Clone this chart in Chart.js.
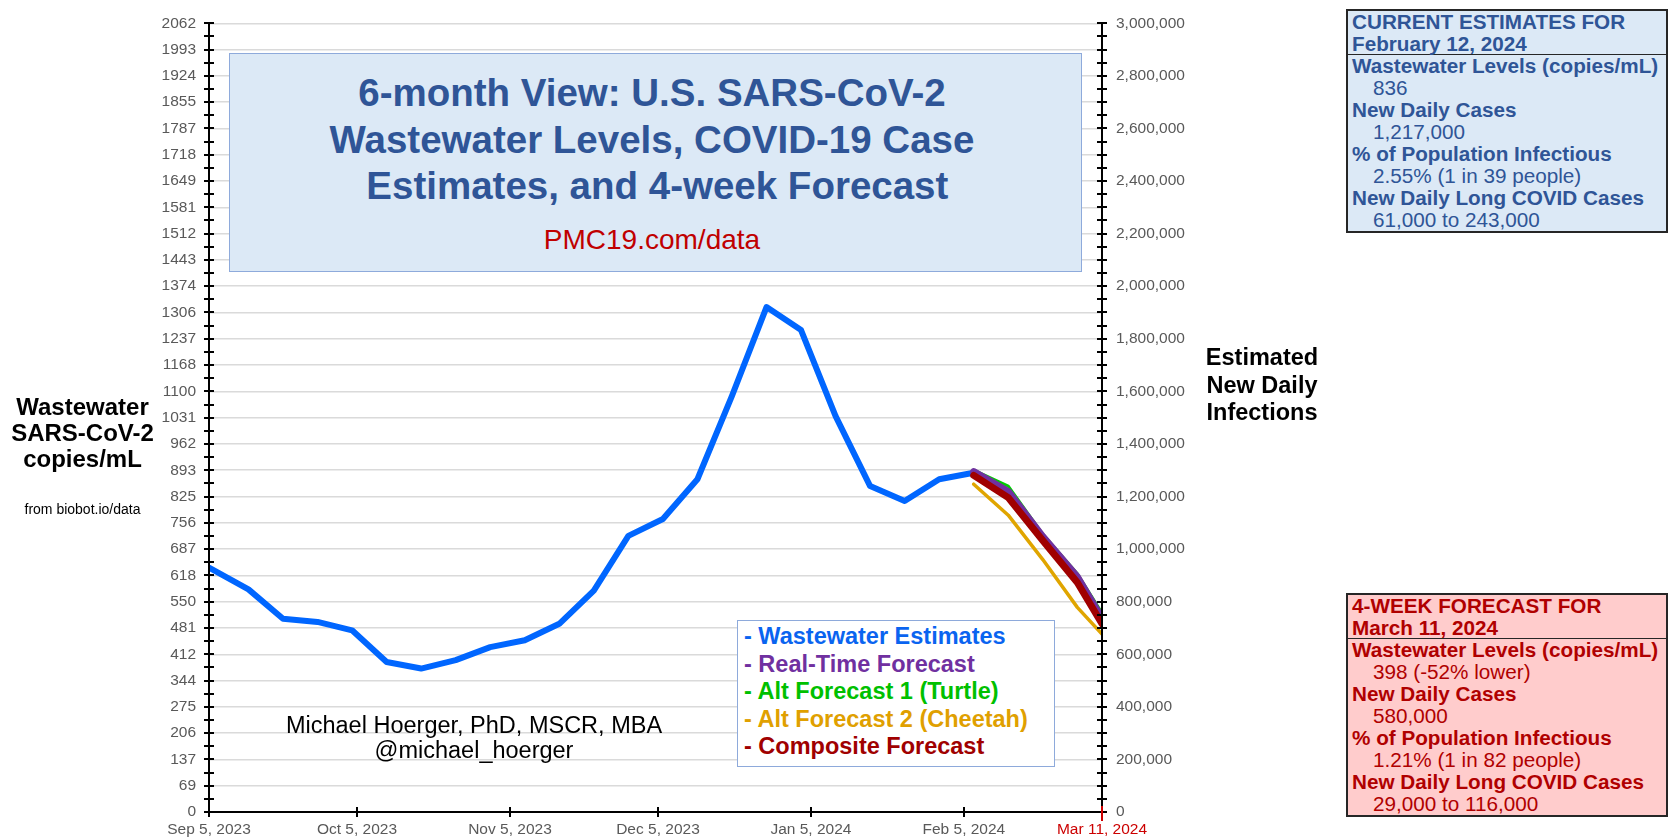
<!DOCTYPE html>
<html>
<head>
<meta charset="utf-8">
<title>U.S. SARS-CoV-2 Wastewater Levels</title>
<script src="https://cdn.jsdelivr.net/npm/chart.js@4.4.1/dist/chart.umd.min.js"></script>
<style>
  body { margin: 0; background: #fff; font-family: "Liberation Sans", Arial, sans-serif; }
  #wrap { position: relative; width: 1670px; height: 839px; overflow: hidden; }
  #chart { position: absolute; left: 0; top: 0; }
  .abs { position: absolute; }
  .axis-title { font-weight: bold; color: #000; text-align: center; font-size: 24px; }
  .title-box { left: 229px; top: 53px; width: 853px; height: 219px; box-sizing: border-box;
               border: 1.5px solid #8eaadb; background: #dce9f6; }
  .title { left: 229px; width: 846px; top: 70px; text-align: center; font-weight: bold;
           font-size: 38.5px; line-height: 46.5px; color: #2f5597; white-space: nowrap; }
  .url { left: 229px; width: 846px; top: 223px; text-align: center; font-size: 28px;
         line-height: 34px; color: #c00000; }
  .credit { left: 274px; width: 400px; top: 713px; text-align: center; font-size: 23.5px;
            line-height: 25px; color: #000; white-space: nowrap; }
  .legend { left: 737px; top: 620px; width: 318px; height: 147px; box-sizing: border-box;
            border: 1.5px solid #8eaadb; background: #fff; padding: 2px 0 0 6px;
            font-weight: bold; font-size: 23.5px; line-height: 27.5px; white-space: nowrap; }
  .stat { left: 1346px; width: 322px; box-sizing: border-box; border: 2px solid #262626;
          font-size: 20.7px; white-space: nowrap; }
  .stat .head { font-weight: bold; line-height: 21.5px; border-bottom: 1.5px solid #262626; padding-left: 4px; }
  .stat .k { font-weight: bold; line-height: 22px; padding-left: 4px; }
  .stat .v { line-height: 22px; padding-left: 25px; }
  .blue { background: #dce9f6; color: #2f5597; top: 9px; }
  .red { background: #ffcccc; color: #b00000; top: 593px; }
</style>
</head>
<body>
<div id="wrap">
  <canvas id="chart" width="1670" height="839"></canvas>

  <div class="abs axis-title" style="left:0;width:165px;top:394px;line-height:26px;">Wastewater<br>SARS-CoV-2<br>copies/mL</div>
  <div class="abs" style="left:0;width:165px;top:500px;text-align:center;font-size:14px;line-height:18px;color:#000;">from biobot.io/data</div>
  <div class="abs axis-title" style="left:1180px;width:164px;top:344px;line-height:27.5px;font-size:23.5px;">Estimated<br>New Daily<br>Infections</div>

  <div class="abs title-box"></div>
  <div class="abs title">6-month View: U.S. SARS-CoV-2<br>Wastewater Levels, COVID-19 Case<br>&nbsp;Estimates, and 4-week Forecast</div>
  <div class="abs url">PMC19.com/data</div>

  <div class="abs credit">Michael Hoerger, PhD, MSCR, MBA<br>@michael_hoerger</div>

  <div class="abs legend" id="legend"></div>

  <div class="abs stat blue">
    <div class="head">CURRENT ESTIMATES FOR<br>February 12, 2024</div>
    <div class="k">Wastewater Levels (copies/mL)</div>
    <div class="v">836</div>
    <div class="k">New Daily Cases</div>
    <div class="v">1,217,000</div>
    <div class="k">% of Population Infectious</div>
    <div class="v">2.55% (1 in 39 people)</div>
    <div class="k">New Daily Long COVID Cases</div>
    <div class="v">61,000 to 243,000</div>
  </div>

  <div class="abs stat red">
    <div class="head">4-WEEK FORECAST FOR<br>March 11, 2024</div>
    <div class="k">Wastewater Levels (copies/mL)</div>
    <div class="v">398 (-52% lower)</div>
    <div class="k">New Daily Cases</div>
    <div class="v">580,000</div>
    <div class="k">% of Population Infectious</div>
    <div class="v">1.21% (1 in 82 people)</div>
    <div class="k">New Daily Long COVID Cases</div>
    <div class="v">29,000 to 116,000</div>
  </div>
</div>

<script>
// days since Sep 5, 2023
const xTickDays = [0, 30, 61, 91, 122, 153, 181];
const xTickLabels = ['Sep 5, 2023', 'Oct 5, 2023', 'Nov 5, 2023', 'Dec 5, 2023', 'Jan 5, 2024', 'Feb 5, 2024', 'Mar 11, 2024'];

const leftTickLabels = ['0', '69', '137', '206', '275', '344', '412', '481', '550', '618', '687', '756', '825', '893', '962',
  '1031', '1100', '1168', '1237', '1306', '1374', '1443', '1512', '1581', '1649', '1718', '1787', '1855', '1924', '1993', '2062'];
const rightTickLabels = ['0', '200,000', '400,000', '600,000', '800,000', '1,000,000', '1,200,000', '1,400,000',
  '1,600,000', '1,800,000', '2,000,000', '2,200,000', '2,400,000', '2,600,000', '2,800,000', '3,000,000'];

const wastewaterDays = [0, 8, 15, 22, 29, 36, 43, 50, 57, 64, 71, 78, 85, 92, 99, 106, 113, 120, 127, 134, 141, 148, 155];
const wastewater = [639, 582, 505, 497, 475, 392, 375, 397, 431, 449, 492, 579, 722, 766, 870, 1088, 1320, 1260, 1035, 852, 813, 870, 887];

const forecastDays = [155, 162, 169, 176, 181];
const realTime = [890, 838, 720, 615, 506];
const turtle = [894, 852, 726, 623, 520];
const cheetah = [857, 776, 660, 535, 465];
const composite = [880, 822, 710, 600, 492];

const leftMax = 2062;
const rightMax = 3000000;

function pts(days, vals) {
  return days.map((d, i) => ({ x: d, y: vals[i] }));
}

Chart.defaults.font.family = '"Liberation Sans", Arial, sans-serif';
Chart.defaults.font.size = 15.5;
Chart.defaults.color = '#595959';

// axis lines with cross ticks like the original sheet
const axisMarks = {
  id: 'axisMarks',
  afterDraw(chart) {
    const { ctx, chartArea: a, scales } = chart;
    ctx.save();
    ctx.strokeStyle = '#000';
    ctx.lineWidth = 2;
    ctx.beginPath();
    ctx.moveTo(a.left, a.top); ctx.lineTo(a.left, a.bottom);
    ctx.moveTo(a.right, a.top); ctx.lineTo(a.right, a.bottom);
    ctx.moveTo(a.left, a.bottom); ctx.lineTo(a.right, a.bottom);
    for (let i = 0; i <= 60; i++) {
      const pl = Math.round(scales.y.getPixelForValue(i * leftMax / 60));
      ctx.moveTo(a.left - 5, pl); ctx.lineTo(a.left + 5, pl);
      const pr = Math.round(scales.y2.getPixelForValue(i * rightMax / 60));
      ctx.moveTo(a.right - 5, pr); ctx.lineTo(a.right + 5, pr);
    }
    xTickDays.forEach((d, i) => {
      if (i === xTickDays.length - 1) return;
      const px = Math.round(scales.x.getPixelForValue(d));
      ctx.moveTo(px, a.bottom - 5); ctx.lineTo(px, a.bottom + 5);
    });
    ctx.stroke();
    const pe = Math.round(scales.x.getPixelForValue(xTickDays[xTickDays.length - 1]));
    ctx.strokeStyle = '#d00000';
    ctx.beginPath();
    ctx.moveTo(pe, a.bottom - 6); ctx.lineTo(pe, a.bottom + 9);
    ctx.stroke();
    ctx.restore();
  }
};

const datasets = [
  { label: 'Wastewater Estimates', data: pts(wastewaterDays, wastewater), borderColor: '#0066ff', borderWidth: 6, order: 4, legendColor: '#0a64f0' },
  { label: 'Real-Time Forecast', data: pts(forecastDays, realTime), borderColor: '#7030a0', borderWidth: 7, order: 1, legendColor: '#7030a0' },
  { label: 'Alt Forecast 1 (Turtle)', data: pts(forecastDays, turtle), borderColor: '#00cc00', borderWidth: 3, order: 2, legendColor: '#00c000' },
  { label: 'Alt Forecast 2 (Cheetah)', data: pts(forecastDays, cheetah), borderColor: '#e0a500', borderWidth: 3.5, order: 3, legendColor: '#e0a000' },
  { label: 'Composite Forecast', data: pts(forecastDays, composite), borderColor: '#a00000', borderWidth: 7, order: 0, legendColor: '#a00000' }
];

const chart = new Chart(document.getElementById('chart'), {
  type: 'line',
  data: { datasets: datasets },
  options: {
    responsive: false,
    animation: false,
    devicePixelRatio: 1,
    layout: { padding: { top: 20, left: 0, right: 0, bottom: 0 } },
    elements: {
      point: { radius: 0 },
      line: { tension: 0, borderJoinStyle: 'round', borderCapStyle: 'round', fill: false }
    },
    plugins: { legend: { display: false }, tooltip: { enabled: false } },
    scales: {
      x: {
        type: 'linear', min: 0, max: xTickDays[xTickDays.length - 1],
        afterBuildTicks: s => { s.ticks = xTickDays.map(v => ({ value: v })); },
        afterFit: s => { s.height = 27; },
        grid: { display: false, drawTicks: false },
        border: { display: false },
        ticks: {
          autoSkip: false, maxRotation: 0, padding: 8,
          callback: (v, i) => xTickLabels[i],
          color: c => c.index === xTickLabels.length - 1 ? '#cc0000' : '#595959'
        }
      },
      y: {
        position: 'left', min: 0, max: leftMax,
        afterBuildTicks: s => { s.ticks = leftTickLabels.map((_, i) => ({ value: i * leftMax / 30 })); },
        afterFit: s => { s.width = 209; },
        grid: { color: '#dadada', lineWidth: 1.5, drawTicks: false },
        border: { display: false },
        ticks: { autoSkip: false, padding: 13, callback: (v, i) => leftTickLabels[i] }
      },
      y2: {
        position: 'right', min: 0, max: rightMax,
        afterBuildTicks: s => { s.ticks = rightTickLabels.map(l => ({ value: Number(l.replace(/,/g, '')) })); },
        afterFit: s => { s.width = 568; },
        grid: { display: false, drawTicks: false },
        border: { display: false },
        ticks: { autoSkip: false, padding: 14, callback: (v, i) => rightTickLabels[i] }
      }
    }
  },
  plugins: [axisMarks]
});

// legend built from the chart's own datasets
const legend = document.getElementById('legend');
chart.data.datasets.forEach(ds => {
  const row = document.createElement('div');
  row.textContent = '- ' + ds.label;
  row.style.color = ds.legendColor;
  legend.appendChild(row);
});
</script>
</body>
</html>
